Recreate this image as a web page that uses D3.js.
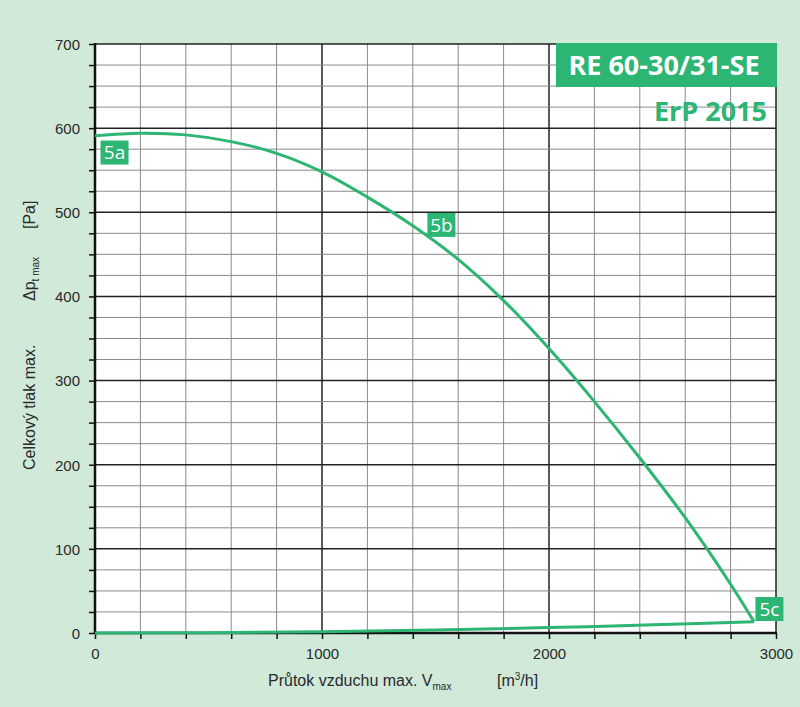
<!DOCTYPE html>
<html lang="cs">
<head>
<meta charset="UTF-8">
<title>RE 60-30/31-SE</title>
<script src="https://cdn.jsdelivr.net/npm/d3@7"></script>
<style>
  body { margin: 0; background: #d0e9d9; }
  svg text { font-family: "Liberation Sans", Arial, sans-serif; fill: #2a2a2a; }
  .tick text { font-size: 15px; }
</style>
</head>
<body>
<svg id="chart" width="800" height="707"></svg>
<script>
// fan curve (flow m3/h, total pressure Pa)
var fanFlow     = [0, 200, 400, 600, 800, 1000, 1200, 1400, 1600, 1800, 2000, 2200, 2400, 2600, 2800, 2903];
var fanPressure = [591, 594, 592, 584, 570, 548, 518, 484, 444, 395, 338, 275, 208, 137, 58, 13.5];
// lower boundary back to origin
var lowFlow     = [0, 500, 1000, 1500, 2000, 2500, 2903];
var lowPressure = [0, 0.4, 1.6, 3.6, 6.4, 10, 13.5];
// point labels
var markNames    = ['5a', '5b', '5c'];
var markFlow     = [86, 1526, 2971];
var markPressure = [571, 485, 28.5];

var xTicks = [0, 1000, 2000, 3000];
var yTicks = [0, 100, 200, 300, 400, 500, 600, 700];

var green = '#2cb573';
var svg = d3.select('#chart');
var m = {left: 95, right: 776, top: 44, bottom: 633};

var x = d3.scaleLinear().domain([0, 3000]).range([m.left, m.right]);
var y = d3.scaleLinear().domain([0, 700]).range([m.bottom, m.top]);

svg.append('rect')
    .attr('x', m.left).attr('y', m.top)
    .attr('width', m.right - m.left).attr('height', m.bottom - m.top)
    .attr('fill', '#fff');

// grid
var g = svg.append('g');
g.selectAll('.vx').data(d3.range(200, 3000, 200)).enter().append('line')
    .attr('x1', d => x(d)).attr('x2', d => x(d))
    .attr('y1', m.top).attr('y2', m.bottom)
    .attr('stroke', d => d % 1000 ? '#8a8a8a' : '#222')
    .attr('stroke-width', d => d % 1000 ? 1 : 1.5);
g.selectAll('.hy').data(d3.range(25, 700, 25)).enter().append('line')
    .attr('x1', m.left).attr('x2', m.right)
    .attr('y1', d => y(d)).attr('y2', d => y(d))
    .attr('stroke', d => d % 100 ? '#8a8a8a' : '#222')
    .attr('stroke-width', d => d % 100 ? 1 : 1.5);
// frame top/right
g.append('line').attr('x1', m.left).attr('x2', m.right).attr('y1', y(700)).attr('y2', y(700))
    .attr('stroke', '#222').attr('stroke-width', 1.5);
g.append('line').attr('x1', x(3000)).attr('x2', x(3000)).attr('y1', m.top).attr('y2', m.bottom)
    .attr('stroke', '#222').attr('stroke-width', 1.5);

// axes
var xAxis = svg.append('g').attr('transform', `translate(0,${m.bottom})`)
    .call(d3.axisBottom(x).tickValues(d3.range(0, 3001, 200)).tickSize(6).tickPadding(6)
        .tickFormat(d => xTicks.includes(d) ? d : ''));
var yAxis = svg.append('g').attr('transform', `translate(${m.left},0)`)
    .call(d3.axisLeft(y).tickValues(d3.range(0, 701, 25)).tickSize(6).tickPadding(9)
        .tickFormat(d => yTicks.includes(d) ? d : ''));
[xAxis, yAxis].forEach(function (a) {
    a.select('.domain').attr('stroke', '#111').attr('stroke-width', 2.5);
    a.selectAll('.tick line').attr('stroke', '#111').attr('stroke-width', 1.5);
    a.selectAll('.tick text').attr('fill', '#2a2a2a');
});
xAxis.select('.domain').attr('d', `M${m.left},0H${m.right + 1}`);
yAxis.select('.domain').attr('d', `M0,${m.top - 1}V${m.bottom + 1}`);
xAxis.selectAll('.tick text').attr('dy', '0.9em');
yAxis.selectAll('.tick text').attr('dy', '0.36em');

// curves
var line = d3.line().x(d => x(d[0])).y(d => y(d[1])).curve(d3.curveCatmullRom.alpha(0.5));
svg.append('path').datum(d3.zip(fanFlow, fanPressure))
    .attr('d', line).attr('fill', 'none')
    .attr('stroke', green).attr('stroke-width', 3).attr('stroke-linejoin', 'round');
svg.append('path').datum(d3.zip(lowFlow, lowPressure))
    .attr('d', line).attr('fill', 'none')
    .attr('stroke', green).attr('stroke-width', 3).attr('stroke-linejoin', 'round');

// point labels
var lab = svg.selectAll('.lab').data(d3.range(markNames.length)).enter().append('g')
    .attr('transform', i => `translate(${x(markFlow[i])},${y(markPressure[i])})`);
lab.append('rect').attr('x', -14).attr('y', -12).attr('width', 28).attr('height', 24).attr('fill', green);
lab.append('text').attr('text-anchor', 'middle').attr('dy', '0.36em')
    .style('fill', '#fff').style('font-size', '19px')
    .style('font-family', '"Open Sans", sans-serif')
    .text(i => markNames[i]);

// title box
svg.append('rect').attr('x', 556).attr('y', 43).attr('width', 221).attr('height', 44).attr('fill', green);
svg.append('text').attr('x', 664).attr('y', 75).attr('text-anchor', 'middle')
    .style('fill', '#fff').style('font-size', '27px').style('font-weight', 'bold')
    .style('font-family', '"Open Sans", sans-serif')
    .text('RE 60-30/31-SE');
svg.append('text').attr('x', 767).attr('y', 121).attr('text-anchor', 'end')
    .style('fill', green).style('font-size', '27px').style('font-weight', 'bold')
    .style('font-family', '"Open Sans", sans-serif')
    .text('ErP 2015');

// axis titles
var xt = svg.append('text').attr('x', 268).attr('y', 686).style('font-size', '16px');
xt.append('tspan').text('Průtok vzduchu max. V');
xt.append('tspan').attr('dy', 4).style('font-size', '10px').text('max');
xt.append('tspan').attr('x', 497).attr('dy', -4).text('[m');
xt.append('tspan').attr('dy', -6).style('font-size', '10px').text('3');
xt.append('tspan').attr('dy', 6).text('/h]');

var yt = svg.append('g').attr('transform', 'translate(35,0) rotate(-90)');
yt.append('text').attr('x', -470).style('font-size', '16px').text('Celkový tlak max.');
var yp = yt.append('text').attr('x', -301).style('font-size', '16px');
yp.append('tspan').text('Δp');
yp.append('tspan').attr('dy', 4).style('font-size', '10px').text('t max');
yt.append('text').attr('x', -229).style('font-size', '16px').text('[Pa]');
</script>
</body>
</html>
